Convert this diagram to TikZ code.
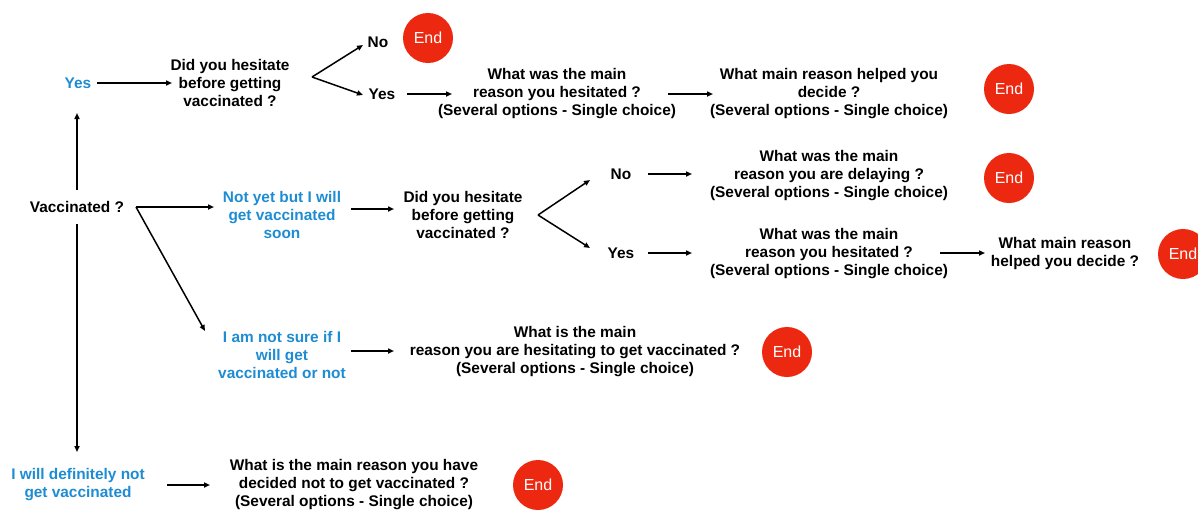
\documentclass[tikz,border=0pt]{standalone}
\usepackage{fontspec}
\setmainfont{Liberation Sans}
\usetikzlibrary{arrows.meta}
\definecolor{ansblue}{RGB}{30,140,210}
\definecolor{endred}{RGB}{236,40,16}
\begin{document}
\begin{tikzpicture}[x=1pt,y=-1pt,
  q/.style={font=\fontsize{15.4}{18}\selectfont\bfseries, align=center, inner sep=0pt},
  ans/.style={q, text=ansblue},
  endc/.style={circle, fill=endred, minimum size=50pt, inner sep=0pt, text=white, font=\fontsize{16}{18}\selectfont},
  arr/.style={-{Triangle[length=6pt,width=5pt]}, line width=1.5pt}]
\useasboundingbox (0,0) rectangle (1198,512);
% left column
\node[ans] (yes1) at (78,83) {Yes};
\node[q] (vac) at (77,207) {Vaccinated ?};
\node[ans] (def) at (78,485) {I will definitely not\\get vaccinated};
% top branch
\node[q] (hes1) at (230,83) {Did you hesitate\\before getting\\vaccinated ?};
\coordinate (sp1) at (312,77);
\node[q] (no1) at (378,42) {No};
\node[endc] (end1) at (428,38) {End};
\node[q] (yes1b) at (382,94) {Yes};
\node[q] (why1) at (557,94) {What was the main\\reason you hesitated ?\\(Several options - Single choice)};
\node[q] (help1) at (829,94) {What main reason helped you\\decide ?\\(Several options - Single choice)};
\node[endc] (end2) at (1009,89) {End};
% middle branch
\node[ans] (notyet) at (282,215) {Not yet but I will\\get vaccinated\\soon};
\node[q] (hes2) at (463,215) {Did you hesitate\\before getting\\vaccinated ?};
\coordinate (sp2) at (538,215);
\node[q] (no2) at (621,174) {No};
\node[q] (delay) at (829,176) {What was the main\\reason you are delaying ?\\(Several options - Single choice)};
\node[endc] (end3) at (1009,178) {End};
\node[q] (yes2) at (621,253) {Yes};
\node[q] (why2) at (829,254) {What was the main\\reason you hesitated ?\\(Several options - Single choice)};
\node[q] (help2) at (1065,254) {What main reason\\helped you decide ?};
\node[endc] (end4) at (1183,254) {End};
% not sure
\node[ans] (notsure) at (282,355) {I am not sure if I\\will get\\vaccinated or not};
\node[q] (why3) at (575,352) {What is the main\\reason you are hesitating to get vaccinated ?\\(Several options - Single choice)};
\node[endc] (end5) at (787,352) {End};
% definitely not
\node[q] (why4) at (354,485) {What is the main reason you have\\decided not to get vaccinated ?\\(Several options - Single choice)};
\node[endc] (end6) at (538,485) {End};
% connectors
\draw[arr] (vac.north |- 0,190) -- (vac.north |- 0,113);
\draw[arr] (vac.south |- 0,224) -- (vac.south |- 0,452);
\draw[arr] (97,83) -- (172,83);
\draw[arr] (sp1) -- (363,45);
\draw[arr] (sp1) -- (363,95);
\draw[arr] (407,94) -- (452,94);
\draw[arr] (668,94) -- (713,94);
\coordinate (vs) at (136,207);
\draw[arr] (vs) -- (214,207);
\draw[arr] (vs) -- (205,331);
\draw[arr] (351,209) -- (394,209);
\draw[arr] (sp2) -- (590,180);
\draw[arr] (sp2) -- (590,248);
\draw[arr] (648,174) -- (692,174);
\draw[arr] (648,253) -- (692,253);
\draw[arr] (940,253) -- (985,253);
\draw[arr] (351,351) -- (394,351);
\draw[arr] (167,485) -- (210,485);
\end{tikzpicture}
\end{document}
